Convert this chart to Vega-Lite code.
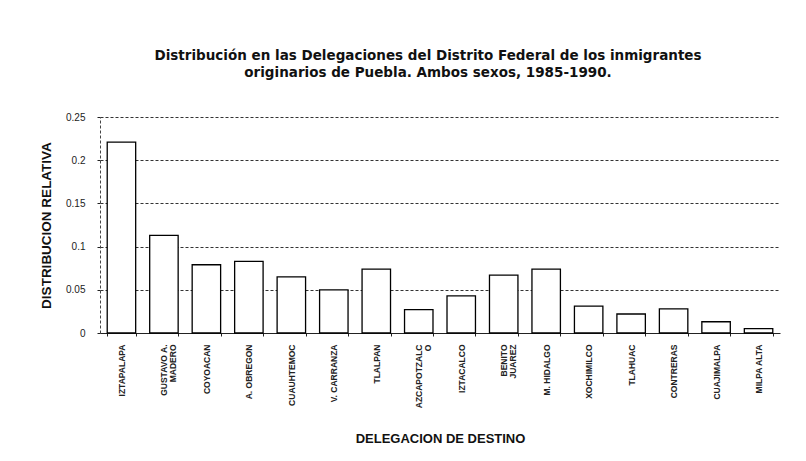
{
  "$schema": "https://vega.github.io/schema/vega-lite/v6.json",
  "autosize": "none",
  "width": 680,
  "height": 216,
  "padding": {"left": 100, "top": 117, "right": 26, "bottom": 128},
  "background": "white",
  "title": {
    "text": ["Distribución en las Delegaciones del Distrito Federal de los inmigrantes", "originarios de Puebla. Ambos sexos, 1985-1990."],
    "font": "DejaVu Sans",
    "fontSize": 13.5,
    "fontWeight": "bold",
    "color": "#111",
    "anchor": "middle",
    "dx": -12,
    "offset": 33,
    "lineHeight": 17
  },
  "data": {
    "values": [
      {"delegacion": "IZTAPALAPA", "valor": 0.221},
      {"delegacion": "GUSTAVO A.|MADERO", "valor": 0.113},
      {"delegacion": "COYOACAN", "valor": 0.079},
      {"delegacion": "A. OBREGON", "valor": 0.083},
      {"delegacion": "CUAUHTEMOC", "valor": 0.065},
      {"delegacion": "V. CARRANZA", "valor": 0.05},
      {"delegacion": "TLALPAN", "valor": 0.074},
      {"delegacion": "AZCAPOTZALC|O", "valor": 0.027},
      {"delegacion": "IZTACALCO", "valor": 0.043},
      {"delegacion": "BENITO|JUAREZ", "valor": 0.067},
      {"delegacion": "M. HIDALGO", "valor": 0.074},
      {"delegacion": "XOCHIMILCO", "valor": 0.031},
      {"delegacion": "TLAHUAC", "valor": 0.022},
      {"delegacion": "CONTRERAS", "valor": 0.028},
      {"delegacion": "CUAJIMALPA", "valor": 0.013},
      {"delegacion": "MILPA ALTA", "valor": 0.005}
    ]
  },
  "mark": {"type": "bar", "fill": "white", "stroke": "black", "strokeWidth": 1.3},
  "encoding": {
    "x": {
      "field": "delegacion",
      "type": "nominal",
      "sort": null,
      "scale": {"paddingInner": 0.33, "paddingOuter": 0.17},
      "axis": {
        "title": "DELEGACION DE DESTINO",
        "titleFont": "Liberation Sans",
        "titleFontSize": 13,
        "titleFontWeight": "bold",
        "titleColor": "#111",
        "titlePadding": 25,
        "labelExpr": "split(datum.label, '|')",
        "labelAngle": -90,
        "labelAlign": "right",
        "labelBaseline": "middle",
        "labelFont": "Liberation Sans",
        "labelFontSize": 8.5,
        "labelFontWeight": "bold",
        "labelColor": "#222",
        "labelPadding": 8,
        "labelLineHeight": 9,
        "tickBand": "extent",
        "tickSize": 3,
        "tickColor": "#222",
        "domainColor": "#222",
        "grid": false
      }
    },
    "y": {
      "field": "valor",
      "type": "quantitative",
      "scale": {"domain": [0, 0.25], "nice": false},
      "axis": {
        "title": "DISTRIBUCION RELATIVA",
        "titleFont": "Liberation Sans",
        "titleFontSize": 13.5,
        "titleFontWeight": "bold",
        "titleColor": "#111",
        "titlePadding": 12,
        "values": [0, 0.05, 0.1, 0.15, 0.2, 0.25],
        "format": ".2~f",
        "labelFont": "Liberation Sans",
        "labelFontSize": 10,
        "labelColor": "#222",
        "labelPadding": 12,
        "tickSize": 3,
        "tickColor": "#222",
        "domainColor": "#444",
        "domainDash": [3, 2],
        "grid": true,
        "gridColor": "#333",
        "gridDash": [3, 2],
        "gridWidth": 1
      }
    }
  },
  "config": {"view": {"stroke": null}}
}
